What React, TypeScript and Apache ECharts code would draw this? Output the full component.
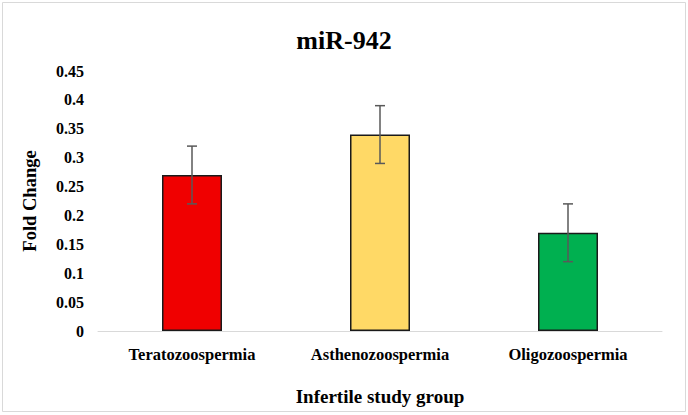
import React, { useEffect, useRef } from "react";
import * as echarts from "echarts";

const categories = ["Teratozoospermia", "Asthenozoospermia", "Oligozoospermia"];
const foldChange = [0.27, 0.34, 0.17];
const errorLow = [0.22, 0.29, 0.12];
const errorHigh = [0.32, 0.39, 0.22];
const barColors = ["#F00000", "#FFD966", "#00B050"];

const FONT = "'Liberation Serif', 'Times New Roman', serif";

export default function App() {
  const ref = useRef<HTMLDivElement>(null);
  useEffect(() => {
    if (!ref.current) return;
    const chart = echarts.init(ref.current, null, { renderer: "svg" });
    chart.setOption({
      animation: false,
      backgroundColor: "#ffffff",
      title: {
        text: "miR-942",
        left: "center",
        top: 22,
        textStyle: { fontFamily: FONT, fontWeight: "bold", fontSize: 26, color: "#000" },
      },
      graphic: [
        {
          type: "rect",
          shape: { x: 2.5, y: 2.5, width: 683, height: 409 },
          style: { fill: "none", stroke: "#d9d9d9", lineWidth: 1 },
          silent: true,
        },
      ],
      grid: { left: 98, right: 26, top: 71, bottom: 84 },
      xAxis: {
        type: "category",
        data: categories,
        name: "Infertile study group",
        nameLocation: "middle",
        nameGap: 56,
        nameTextStyle: { fontFamily: FONT, fontWeight: "bold", fontSize: 19, color: "#000" },
        axisLine: { lineStyle: { color: "#d9d9d9", width: 1 } },
        axisTick: { show: false },
        axisLabel: { fontFamily: FONT, fontWeight: "bold", fontSize: 16.5, color: "#000", margin: 15 },
      },
      yAxis: {
        type: "value",
        min: 0,
        max: 0.45,
        interval: 0.05,
        name: "Fold Change",
        nameLocation: "middle",
        nameGap: 59,
        nameRotate: 90,
        nameTextStyle: { fontFamily: FONT, fontWeight: "bold", fontSize: 18.5, color: "#000" },
        axisLine: { show: false },
        axisTick: { show: false },
        splitLine: { show: false },
        axisLabel: {
          fontFamily: FONT,
          fontWeight: "bold",
          fontSize: 16,
          color: "#000",
          margin: 14,
          formatter: (v: number) => String(parseFloat(v.toFixed(2))),
        },
      },
      series: [
        {
          type: "bar",
          barWidth: 60,
          data: foldChange.map((v, i) => ({
            value: v,
            itemStyle: { color: barColors[i], borderColor: "#1a1a1a", borderWidth: 1.5 },
          })),
        },
        {
          type: "custom",
          data: categories.map((c, i) => [i, errorLow[i], errorHigh[i]]),
          z: 10,
          renderItem: (params: any, api: any) => {
            const x = api.value(0);
            const lo = api.coord([x, api.value(1)]);
            const hi = api.coord([x, api.value(2)]);
            const half = 5;
            const style = { stroke: "#595959", lineWidth: 1.5 };
            return {
              type: "group",
              children: [
                { type: "line", shape: { x1: hi[0], y1: hi[1], x2: lo[0], y2: lo[1] }, style },
                { type: "line", shape: { x1: hi[0] - half, y1: hi[1], x2: hi[0] + half, y2: hi[1] }, style },
                { type: "line", shape: { x1: lo[0] - half, y1: lo[1], x2: lo[0] + half, y2: lo[1] }, style },
              ],
            };
          },
        },
      ],
    });
    return () => chart.dispose();
  }, []);
  return (
    <div
      ref={ref}
      style={{ position: "fixed", left: 0, top: 0, width: 688, height: 415 }}
    />
  );
}
